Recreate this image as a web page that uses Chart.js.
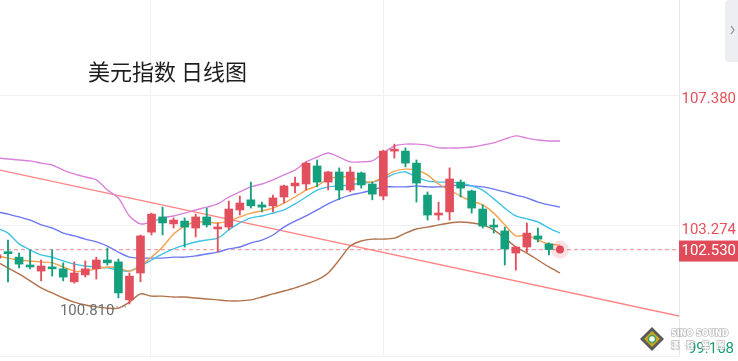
<!DOCTYPE html>
<html>
<head>
<meta charset="utf-8">
<script src="https://cdn.jsdelivr.net/npm/chart.js@4.4.1/dist/chart.umd.min.js"></script>
<style>
  html, body { margin: 0; padding: 0; background: #fff; }
  #wrap { width: 738px; height: 361px; }
</style>
</head>
<body>
<div id="wrap"><canvas id="dxy" width="738" height="361"></canvas></div>
<script>
var title = '美元指数 日线图';

// daily candles, oldest first
var opens  = [102.26,102.45,102.29,102.04,101.85,101.98,101.92,101.51,101.73,101.92,
              102.20,102.14,100.94,101.79,103.08,103.56,103.34,103.43,103.21,103.56,
              103.18,103.24,103.78,104.10,103.94,103.91,104.19,104.54,104.60,105.17,
              104.66,104.98,104.41,104.95,104.60,104.22,105.64,105.64,105.26,104.25,
              103.62,103.72,104.66,104.38,103.81,103.30,103.12,102.42,102.61,102.96,102.71];
var highs  = [102.45,102.83,102.42,102.52,102.20,102.52,102.11,102.14,102.17,102.29,
              102.58,102.23,101.79,102.99,103.68,103.87,103.53,103.53,103.65,103.84,
              103.37,104.06,104.22,104.66,104.03,104.25,104.57,104.82,105.29,105.36,
              105.00,105.11,105.14,104.98,104.66,105.67,105.86,105.74,105.36,104.35,
              104.03,105.11,104.73,104.41,103.94,103.50,103.24,102.63,103.37,103.21,102.74];
var lows   = [102.14,101.51,101.95,101.92,101.54,101.69,101.54,101.47,101.66,101.60,
              102.04,101.00,100.81,101.51,102.99,102.99,103.21,102.61,102.93,103.24,
              102.45,103.15,103.62,103.84,103.72,103.72,104.00,104.32,104.41,104.51,
              104.41,104.10,104.35,104.47,104.10,104.10,105.42,105.14,104.03,103.46,
              103.46,103.46,104.19,103.68,103.21,103.05,102.04,101.88,102.45,102.77,102.36];
var closes = [102.36,102.40,102.07,101.98,102.01,101.92,101.66,101.79,101.92,102.20,
              102.11,101.16,101.69,102.96,103.65,103.37,103.46,103.24,103.56,103.31,
              103.24,103.81,104.00,103.91,103.87,104.16,104.54,104.63,105.26,104.66,
              104.98,104.41,104.98,104.57,104.28,105.64,105.68,105.26,104.63,103.62,
              103.68,104.76,104.47,103.84,103.27,103.24,102.55,102.61,103.05,102.86,102.53];

// indicator lines (one extra point for the live bar)
var ma5     = [102.33,102.26,102.20,102.17,102.14,102.11,101.98,101.85,101.85,101.92,
               101.98,101.95,101.85,102.01,102.29,102.61,103.02,103.27,103.40,103.40,
               103.37,103.43,103.56,103.68,103.75,103.84,104.00,104.19,104.41,104.54,
               104.76,104.82,104.82,104.70,104.66,104.82,105.01,105.07,105.04,104.89,
               104.60,104.41,104.22,104.06,103.94,103.68,103.31,102.96,102.99,102.83,102.71,102.67];
var ma10    = [103.21,103.05,102.71,102.52,102.36,102.29,102.17,102.07,102.01,101.98,
               101.95,101.88,101.85,102.01,102.20,102.39,102.55,102.67,102.77,102.83,
               102.89,103.15,103.37,103.53,103.59,103.68,103.78,103.97,104.19,104.41,
               104.51,104.54,104.57,104.63,104.66,104.76,104.92,104.98,104.82,104.70,
               104.66,104.66,104.63,104.54,104.41,104.13,103.84,103.59,103.50,103.40,103.21,103.05];
var bollUp  = [105.42,105.39,105.36,105.33,105.26,105.20,105.04,104.92,104.82,104.73,
               104.41,104.16,103.59,103.34,103.40,103.53,103.59,103.68,103.78,103.87,
               103.97,104.19,104.35,104.51,104.60,104.73,104.89,105.04,105.30,105.45,
               105.58,105.45,105.30,105.30,105.33,105.58,105.80,105.86,105.86,105.83,
               105.74,105.74,105.74,105.77,105.83,105.90,106.02,106.12,106.05,105.99,105.96,105.96];
var bollMid = [103.72,103.65,103.56,103.46,103.31,103.21,103.05,102.96,102.86,102.77,
               102.64,102.45,102.29,102.26,102.26,102.26,102.29,102.29,102.33,102.39,
               102.45,102.55,102.61,102.74,102.83,102.99,103.24,103.43,103.59,103.78,
               103.97,104.13,104.25,104.32,104.41,104.51,104.51,104.51,104.54,104.51,
               104.51,104.54,104.57,104.54,104.51,104.44,104.35,104.25,104.16,104.03,103.94,103.87];
var bollLow = [102.14,101.95,101.76,101.54,101.32,101.16,101.00,100.87,100.78,100.72,
               100.68,100.68,100.87,101.13,101.06,101.06,101.03,101.03,101.00,100.97,
               100.94,100.91,100.91,100.94,101.03,101.13,101.22,101.32,101.44,101.57,
               101.79,102.20,102.64,102.80,102.86,102.86,102.89,103.05,103.18,103.24,
               103.31,103.37,103.40,103.37,103.31,103.15,102.89,102.61,102.42,102.20,101.98,101.79];

var trendLine = [105.04, 100.43];          // value at left edge, value at right edge
var axisTicks = [99.168, 103.274, 107.380];
var lastPrice = 102.530;
var lowMark = 100.810;

var RED = '#e2505e', GREEN = '#14a07d';
var xMin = 0.275, xMax = 61.78;

function pts(arr) { return arr.map(function (v, i) { return { x: i, y: v }; }); }
var colors = opens.map(function (o, i) { return closes[i] >= o ? RED : GREEN; });
var wicks = opens.map(function (o, i) { return { x: i, y: [lows[i], highs[i]] }; });
var bodies = opens.map(function (o, i) { return { x: i, y: [o, closes[i]] }; });
var liveIdx = ma5.length - 1;

function lineSet(data, color) {
    return { type: 'line', data: pts(data), borderColor: color, borderWidth: 1.4,
             pointRadius: 0, tension: 0.25, order: 3 };
}

var overlay = {
    id: 'overlay',
    afterDraw: function (chart) {
        var ctx = chart.ctx, ys = chart.scales.y, xs = chart.scales.x;
        ctx.save();
        ctx.textBaseline = 'middle';

        ctx.font = '22px "Noto Sans CJK SC"';
        ctx.fillStyle = '#1e1e1e';
        ctx.textAlign = 'left';
        ctx.fillText(title, 88, 72);

        ctx.font = '15px Roboto';
        ctx.textAlign = 'right';
        ctx.fillStyle = '#e5505a';
        ctx.fillText(axisTicks[2].toFixed(3), 736, ys.getPixelForValue(axisTicks[2]) + 3);
        ctx.fillText(axisTicks[1].toFixed(3), 736, ys.getPixelForValue(axisTicks[1]) + 4);

        var py = ys.getPixelForValue(lastPrice);
        ctx.fillStyle = '#e04b5a';
        ctx.fillRect(679, py - 9, 59, 21);
        ctx.fillStyle = '#ffffff';
        ctx.fillText(lastPrice.toFixed(3), 736, py + 2);

        ctx.fillStyle = '#1a9b77';
        ctx.fillText(axisTicks[0].toFixed(3), 734, ys.getPixelForValue(axisTicks[0]) - 7);

        // low marker
        var lowIdx = lows.indexOf(lowMark);
        var lx = xs.getPixelForValue(lowIdx), ly = ys.getPixelForValue(lowMark);
        ctx.fillStyle = '#6e6e6e';
        ctx.fillText(lowMark.toFixed(3), lx - 15, ly + 7);
        ctx.fillStyle = '#aaaaaa';
        for (var k = 0; k < 3; k++) ctx.fillRect(lx - 13 + k * 4, ly + 2, 1.5, 1.5);

        // side tab
        ctx.fillStyle = '#eceef1';
        ctx.beginPath();
        ctx.moveTo(738, 0); ctx.lineTo(729, 0);
        ctx.arcTo(725, 0, 725, 4, 4);
        ctx.lineTo(725, 58); ctx.arcTo(725, 62, 729, 62, 4);
        ctx.lineTo(738, 62); ctx.closePath(); ctx.fill();
        ctx.strokeStyle = '#8a8d92'; ctx.lineWidth = 1.2;
        ctx.beginPath(); ctx.moveTo(731, 26); ctx.lineTo(734, 30); ctx.lineTo(731, 34); ctx.stroke();

        // watermark
        var cx = 652, cy = 339;
        ctx.fillStyle = '#5a5a5a';
        ctx.beginPath(); ctx.moveTo(cx, cy - 12); ctx.lineTo(cx + 12, cy); ctx.lineTo(cx, cy + 12); ctx.lineTo(cx - 12, cy); ctx.closePath(); ctx.fill();
        ctx.fillStyle = '#c9a81c';
        ctx.beginPath(); ctx.moveTo(cx, cy - 8); ctx.lineTo(cx + 8, cy); ctx.lineTo(cx, cy + 8); ctx.lineTo(cx - 8, cy); ctx.closePath(); ctx.fill();
        ctx.fillStyle = '#ffffff';
        ctx.beginPath(); ctx.arc(cx, cy, 3.5, 0, Math.PI * 2); ctx.fill();
        ctx.strokeStyle = '#3aa05a'; ctx.lineWidth = 1.5;
        ctx.beginPath(); ctx.arc(cx, cy, 3.5, 0, Math.PI * 2); ctx.stroke();

        ctx.textAlign = 'left';
        ctx.font = 'bold 8px "DejaVu Sans"';
        ctx.lineWidth = 1.5; ctx.strokeStyle = 'rgba(130,130,130,0.5)';
        ctx.strokeText('SINO SOUND', 671, 334);
        ctx.fillStyle = '#ffffff';
        ctx.fillText('SINO SOUND', 671, 334);
        ctx.font = 'bold 8px "Noto Sans CJK TC"';
        ctx.strokeText('漢    聲    集    團', 671, 345);
        ctx.fillText('漢    聲    集    團', 671, 345);
        ctx.restore();
    }
};

new Chart(document.getElementById('dxy').getContext('2d'), {
    type: 'bar',
    data: {
        datasets: [
            { type: 'line', data: [{ x: liveIdx, y: lastPrice }], showLine: false, pointRadius: 4,
              pointBackgroundColor: '#e2485a', pointBorderWidth: 0, order: 0 },
            { type: 'line', data: [{ x: liveIdx, y: lastPrice }], showLine: false, pointRadius: 9,
              pointBackgroundColor: 'rgba(226,72,90,0.16)', pointBorderWidth: 0, order: 0 },
            { data: bodies, backgroundColor: colors, barThickness: 8, minBarLength: 2,
              grouped: false, order: 1 },
            { data: wicks, backgroundColor: colors, barThickness: 1.2, grouped: false, order: 2 },
            lineSet(ma5, '#f6a04d'),
            lineSet(ma10, '#3ec3e4'),
            lineSet(bollUp, '#d882d9'),
            lineSet(bollMid, '#6b78f2'),
            lineSet(bollLow, '#b0714b'),
            { type: 'line', data: [{ x: xMin, y: trendLine[0] }, { x: xMax, y: trendLine[1] }],
              borderColor: '#ff8585', borderWidth: 1.4, pointRadius: 0, order: 4 },
            { type: 'line', data: [{ x: xMin, y: lastPrice }, { x: xMax, y: lastPrice }],
              borderColor: '#f2a0a8', borderWidth: 1.2, borderDash: [4, 3], pointRadius: 0, order: 5 }
        ]
    },
    options: {
        responsive: false,
        animation: false,
        layout: { autoPadding: false, padding: { left: 0, right: 0, top: 0, bottom: 5 } },
        plugins: { legend: { display: false }, tooltip: { enabled: false } },
        scales: {
            x: {
                type: 'linear', min: xMin, max: xMax, offset: false,
                afterBuildTicks: function (a) { a.ticks = [{ value: 13.95 }, { value: 34.97 }]; },
                afterFit: function (s) { s.height = 0; },
                ticks: { display: false },
                grid: { color: '#eef0f4', drawTicks: false, offset: false },
                border: { display: false }
            },
            y: {
                position: 'right', min: axisTicks[0], max: 110.412,
                afterBuildTicks: function (a) { a.ticks = axisTicks.map(function (v) { return { value: v }; }); },
                afterFit: function (s) { s.width = 59; },
                ticks: { display: false },
                grid: { color: '#eef0f4', drawTicks: false },
                border: { color: '#e6e8ec' }
            }
        }
    },
    plugins: [overlay]
});
</script>
</body>
</html>
